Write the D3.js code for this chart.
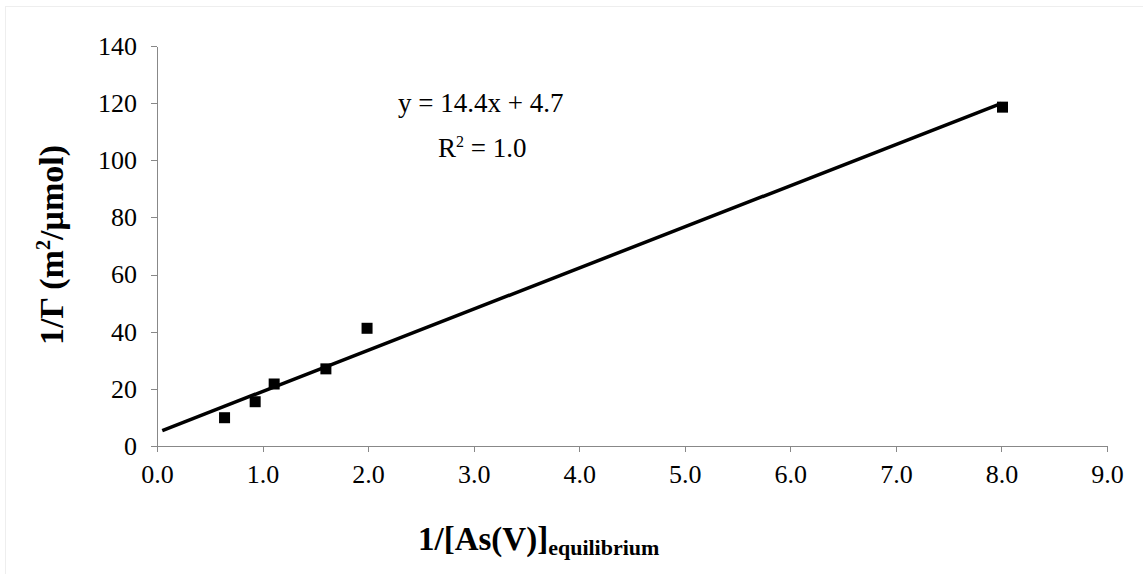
<!DOCTYPE html>
<html lang="en">
<head>
  <meta charset="UTF-8" />
  <title>Langmuir linearisation</title>
  <script src="https://d3js.org/d3.v7.min.js"></script>
  <style>
    body { margin: 0; background: #fff; }
  </style>
</head>
<body>
  <svg width="1143" height="574"></svg>
  <script>
    // data
    const xValues = [0.64, 0.93, 1.11, 1.60, 1.99, 8.01];
    const yValues = [9.9, 15.5, 21.7, 27.0, 41.2, 118.6];
    const slope = 14.4;
    const intercept = 4.7;
    const fitRange = [0.05, 8.0];
    const xTicks = [0, 1, 2, 3, 4, 5, 6, 7, 8, 9];
    const yTicks = [0, 20, 40, 60, 80, 100, 120, 140];

    const serif = "'Liberation Serif', 'Times New Roman', Times, serif";
    const svg = d3.select("svg").attr("font-family", serif);
    const margin = { left: 157, right: 36, top: 46, bottom: 128 };
    const width = 1143, height = 574;

    // faint frame
    svg.append("rect")
      .attr("x", 5.5).attr("y", 6.5)
      .attr("width", width).attr("height", height)
      .attr("fill", "none").attr("stroke", "#eee");

    const x = d3.scaleLinear().domain([0, 9]).range([margin.left, width - margin.right]);
    const y = d3.scaleLinear().domain([0, 140]).range([height - margin.bottom, margin.top]);

    const styleAxis = g => {
      g.attr("font-family", serif).attr("font-size", 26);
      g.selectAll("path, line").attr("stroke", "#888").attr("shape-rendering", "crispEdges");
      g.selectAll("text").attr("fill", "#000");
    };

    svg.append("g")
      .attr("transform", `translate(0,${y(0)})`)
      .call(d3.axisBottom(x).tickValues(xTicks).tickFormat(d3.format(".1f")).tickSize(6).tickPadding(13).tickSizeOuter(0))
      .call(styleAxis);

    svg.append("g")
      .attr("transform", `translate(${x(0)},0)`)
      .call(d3.axisLeft(y).tickValues(yTicks).tickSize(6).tickPadding(14).tickSizeOuter(0))
      .call(styleAxis);

    // trendline
    svg.append("line")
      .attr("x1", x(fitRange[0])).attr("y1", y(slope * fitRange[0] + intercept))
      .attr("x2", x(fitRange[1])).attr("y2", y(slope * fitRange[1] + intercept))
      .attr("stroke", "#000").attr("stroke-width", 3.5);

    // markers
    const s = 11;
    svg.selectAll("rect.pt")
      .data(xValues.map((v, i) => [v, yValues[i]]))
      .join("rect")
      .attr("class", "pt")
      .attr("x", d => x(d[0]) - s / 2)
      .attr("y", d => y(d[1]) - s / 2)
      .attr("width", s).attr("height", s)
      .attr("fill", "#000");

    // equation
    svg.append("text")
      .attr("x", 398).attr("y", 112)
      .attr("font-size", 27)
      .text(`y = ${slope}x + ${intercept}`);
    const r2 = svg.append("text")
      .attr("x", 438).attr("y", 157)
      .attr("font-size", 27);
    r2.append("tspan").text("R");
    r2.append("tspan").attr("font-size", 16).attr("dy", -10).text("2");
    r2.append("tspan").attr("dy", 10).text(" = 1.0");

    // x title
    const xt = svg.append("text")
      .attr("x", 418).attr("y", 550)
      .attr("font-size", 33).attr("font-weight", "bold");
    xt.append("tspan").text("1/[As(V)]");
    xt.append("tspan").attr("font-size", 22).attr("dy", 5).text("equilibrium");

    // y title
    const yt = svg.append("text")
      .attr("transform", "translate(63,245) rotate(-90)")
      .attr("text-anchor", "middle")
      .attr("font-size", 34).attr("font-weight", "bold");
    yt.append("tspan").text("1/\u0393 (m");
    yt.append("tspan").attr("font-size", 20).attr("dy", -13).text("2");
    yt.append("tspan").attr("dy", 13).text("/\u00b5mol)");
  </script>
</body>
</html>
